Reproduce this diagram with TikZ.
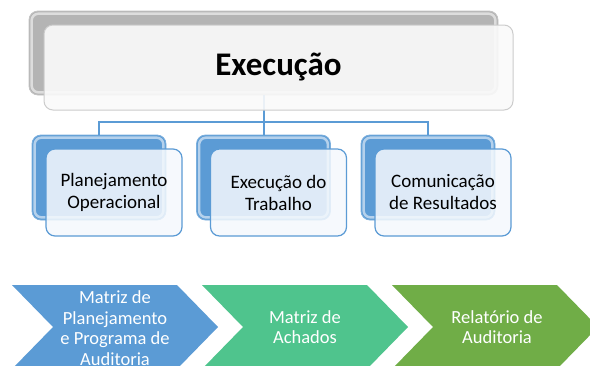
\documentclass[tikz,border=0pt]{standalone}
\usepackage{fontspec}
\setmainfont{Carlito}
\definecolor{accblue}{HTML}{5B9BD5}
\definecolor{accteal}{HTML}{4FC48D}
\definecolor{accgreen}{HTML}{70AD47}
\definecolor{backgray}{HTML}{B4B4B4}
\definecolor{frontgray}{HTML}{FAFAFA}
\definecolor{frontblue}{HTML}{F5F9FD}
\tikzset{
  backbox/.style={draw=#1!80!white, line width=0.8pt, fill=#1, rounded corners=9pt, inner sep=0pt, minimum width=134pt, minimum height=85pt},
  hilite/.style={draw=white, draw opacity=0.55, line width=2.5pt, rounded corners=7pt},
  topfront/.style={draw=gray!40, line width=1pt, fill=frontgray, fill opacity=0.9, text opacity=1, rounded corners=9pt, inner sep=0pt, minimum width=469pt, minimum height=85pt, font=\fontsize{33}{40}\selectfont\bfseries},
  childfront/.style={draw=accblue, line width=1.2pt, fill=frontblue, fill opacity=0.85, text opacity=1, rounded corners=9pt, inner sep=0pt, minimum width=136pt, minimum height=87pt, align=center, font=\fontsize{19}{22}\selectfont},
  conn/.style={draw=accblue, line width=2pt},
  chevtext/.style={text=white, align=center, font=\fontsize{18.5}{20.7}\selectfont},
}
\begin{document}
\begin{tikzpicture}[x=1pt,y=-1pt]
\clip (0,0) rectangle (590,365);
\fill[white] (0,0) rectangle (590,365);
% back boxes
\node[backbox=backgray, minimum width=469pt, minimum height=84pt] (tb) at (263.5,53) {};
\draw[hilite] ([shift={(3pt,3pt)}]tb.south west) rectangle ([shift={(-3pt,-3pt)}]tb.north east);
\node[backbox=accblue] (c1b) at (99,177.5) {};
\node[backbox=accblue] (c2b) at (263.5,177.5) {};
\node[backbox=accblue] (c3b) at (428,177.5) {};
\foreach \n in {c1b,c2b,c3b}{
  \draw[hilite] ([shift={(3pt,3pt)}]\n.south west) rectangle ([shift={(-3pt,-3pt)}]\n.north east);
}
% connectors
\draw[conn] (tb.south) -- (c2b.north);
\draw[conn] (tb.south) -- ++(0,27) coordinate (bus) -| (c1b.north);
\draw[conn] (bus) -| (c3b.north);
% front boxes
\node[topfront] (tf) at (278.5,67.5) {Execução};
\node[childfront] (c1) at (114,192.5) {Planejamento\\Operacional};
\node[childfront] (c2) at (278.5,192.5) {Execução do\\Trabalho};
\node[childfront] (c3) at (443,192.5) {Comunicação\\de Resultados};
% chevrons
\foreach \L/\col/\nm in {12/accblue/ch1, 202/accteal/ch2, 392/accgreen/ch3}{
  \fill[\col] (\L,285) -- (\L+165,285) -- (\L+206,327) -- (\L+165,369) -- (\L,369) -- (\L+41,327) -- cycle;
}
\node[chevtext] (t1) at (115,328) {Matriz de\\Planejamento\\e Programa de\\Auditoria};
\node[chevtext] (t2) at (305,327) {Matriz de\\Achados};
\node[chevtext] (t3) at (497,327) {Relatório de\\Auditoria};
\end{tikzpicture}
\end{document}
